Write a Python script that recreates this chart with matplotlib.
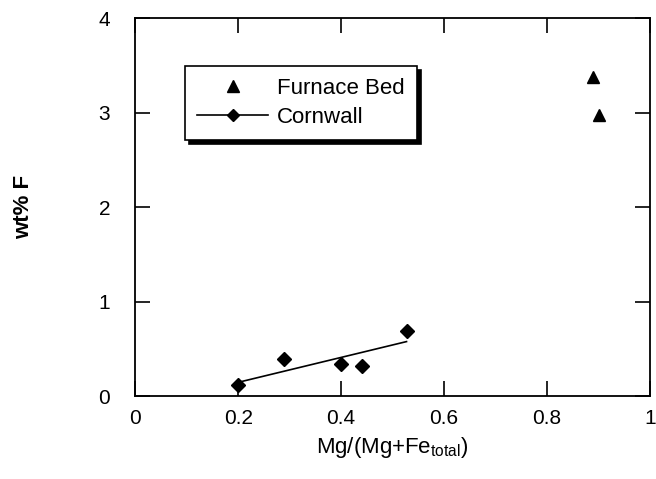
import numpy as np
import matplotlib
matplotlib.use("Agg")
import matplotlib.pyplot as plt

plt.rcParams['font.family'] = ['Liberation Sans', 'DejaVu Sans']

# Furnace Bed samples
furnace_x = [0.89, 0.90]
furnace_y = [3.38, 2.98]

# Cornwall samples
cornwall_x = [0.20, 0.29, 0.40, 0.44, 0.527]
cornwall_y = [0.12, 0.39, 0.34, 0.32, 0.69]

fig = plt.figure(figsize=(6.56, 4.79), dpi=100)
ax = fig.add_axes([0.206, 0.173, 0.785, 0.789])

ax.plot(furnace_x, furnace_y, '^', color='black', markersize=8, label='Furnace Bed')

# least squares line through Cornwall points
k, b = np.polyfit(cornwall_x, cornwall_y, 1)
xs = np.array([min(cornwall_x), max(cornwall_x)])
ax.plot(xs, k * xs + b, '-', color='black', linewidth=1.2)
ax.plot(cornwall_x, cornwall_y, 'D', color='black', markersize=7)
# legend proxy: line with diamond
ax.plot([], [], '-D', color='black', markersize=6, linewidth=1.2, label='Cornwall')

ax.set_xlim(0, 1)
ax.set_ylim(0, 4)
ax.set_xticks([0, 0.2, 0.4, 0.6, 0.8, 1])
ax.set_xticklabels(['0', '0.2', '0.4', '0.6', '0.8', '1'])
ax.set_yticks([0, 1, 2, 3, 4])
ax.tick_params(direction='in', length=11, width=1.2, top=True, right=True,
               labelsize=15)
ax.tick_params(axis='x', pad=9)
ax.tick_params(axis='y', pad=18)
for s in ax.spines.values():
    s.set_linewidth(1.3)

ax.set_xlabel('Mg/(Mg+Fe$_{\\mathregular{total}}$)', fontsize=16, labelpad=5)
ax.set_ylabel('wt% F', fontsize=16, fontweight='bold', labelpad=46)

leg = ax.legend(loc='upper left', bbox_to_anchor=(0.097, 0.874), borderaxespad=0,
                fontsize=16, fancybox=False, framealpha=1, handlelength=3.2,
                labelspacing=0.35, borderpad=0.55, handletextpad=0.4,
                shadow={'color': 'black', 'alpha': 1, 'ox': 3, 'oy': -3})
leg.get_frame().set_edgecolor('black')
leg.get_frame().set_linewidth(1.2)

fig.savefig('out.png', dpi=100)
